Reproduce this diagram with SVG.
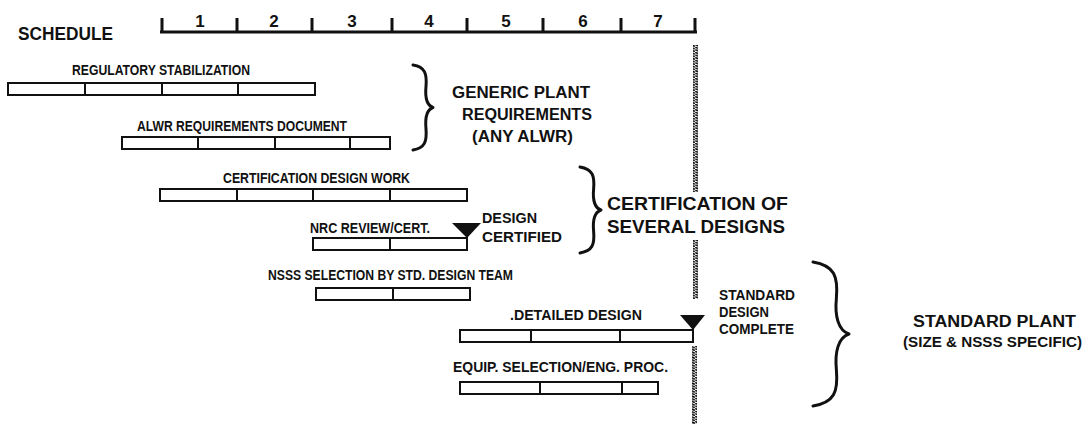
<svg xmlns="http://www.w3.org/2000/svg" width="1090" height="424" viewBox="0 0 1090 424">
<style>
text{font-family:"Liberation Sans","DejaVu Sans",sans-serif;font-weight:bold;fill:#111}
.sm{font-size:14.5px}
.md{font-size:16px}
.lg{font-size:17.5px}
.num{font-size:17px}
.bar{fill:#fff;stroke:#111;stroke-width:2}
.div{stroke:#111;stroke-width:2}
.axis{stroke:#111;stroke-width:3;fill:none}
.brace{fill:none;stroke:#111;stroke-width:3;stroke-linecap:round;stroke-linejoin:round}
.tri{fill:#111}
</style>
<defs>
<pattern id="hatch" patternUnits="userSpaceOnUse" width="5" height="2.6">
<path d="M0,0.2 L5,2.2" stroke="#111" stroke-width="1.6"/>
</pattern>
</defs>
<rect width="1090" height="424" fill="#fff"/>

<g id="schedule-axis">
<text class="lg" x="18" y="40" textLength="95" lengthAdjust="spacingAndGlyphs">SCHEDULE</text>
<path class="axis" d="M160,32 H697 M162,18 V33 M237,18 V33 M312,18 V33 M392,18 V33 M467,18 V33 M543,18 V33 M621,18 V33 M695,18 V33"/>
<text class="num" x="200" y="27" text-anchor="middle">1</text>
<text class="num" x="274" y="27" text-anchor="middle">2</text>
<text class="num" x="352" y="27" text-anchor="middle">3</text>
<text class="num" x="429" y="27" text-anchor="middle">4</text>
<text class="num" x="506" y="27" text-anchor="middle">5</text>
<text class="num" x="583" y="27" text-anchor="middle">6</text>
<text class="num" x="658" y="27" text-anchor="middle">7</text>
</g>

<g id="cutoff-line">
<rect x="693" y="45" width="5" height="147" fill="url(#hatch)"/>
<rect x="693" y="240" width="5" height="59" fill="url(#hatch)"/>
<rect x="692" y="346" width="5" height="78" fill="url(#hatch)"/>
</g>

<g id="regulatory-stabilization">
<text class="sm" x="72" y="75" textLength="178" lengthAdjust="spacingAndGlyphs">REGULATORY STABILIZATION</text>
<rect class="bar" x="8" y="83" width="307" height="12"/>
<path class="div" d="M85,83 V95 M162,83 V95 M238,83 V95"/>
</g>

<g id="alwr-requirements">
<text class="sm" x="137" y="131" textLength="210" lengthAdjust="spacingAndGlyphs">ALWR REQUIREMENTS DOCUMENT</text>
<rect class="bar" x="122" y="137" width="268" height="12"/>
<path class="div" d="M198,137 V149 M275,137 V149 M350,137 V149"/>
</g>

<g id="certification-design-work">
<text class="sm" x="223" y="183" textLength="187" lengthAdjust="spacingAndGlyphs">CERTIFICATION DESIGN WORK</text>
<rect class="bar" x="160" y="189" width="307" height="12"/>
<path class="div" d="M237,189 V201 M313,189 V201 M390,189 V201"/>
</g>

<g id="nrc-review">
<text class="sm" x="310" y="233" textLength="120" lengthAdjust="spacingAndGlyphs">NRC REVIEW/CERT.</text>
<rect class="bar" x="313" y="238" width="154" height="12"/>
<path class="div" d="M390,238 V250"/>
<polygon class="tri" points="452,223 481,223 467,238"/>
<path class="div" d="M467,230 V250" stroke-width="3"/>
<text class="sm" x="482" y="223" textLength="55" lengthAdjust="spacingAndGlyphs">DESIGN</text>
<text class="sm" x="482" y="242" textLength="80" lengthAdjust="spacingAndGlyphs">CERTIFIED</text>
</g>

<g id="nsss-selection">
<text class="sm" x="268" y="280" textLength="245" lengthAdjust="spacingAndGlyphs">NSSS SELECTION BY STD. DESIGN TEAM</text>
<rect class="bar" x="316" y="288" width="154" height="12"/>
<path class="div" d="M393,288 V300"/>
</g>

<g id="detailed-design">
<text class="sm" x="510" y="320" textLength="132" lengthAdjust="spacingAndGlyphs">.DETAILED DESIGN</text>
<rect class="bar" x="460" y="330" width="233" height="12"/>
<path class="div" d="M531,330 V342 M620,330 V342"/>
<polygon class="tri" points="680,315 705,315 693,330"/>
<path class="div" d="M693,322 V342" stroke-width="3"/>
<text class="sm" x="719" y="300" textLength="76" lengthAdjust="spacingAndGlyphs">STANDARD</text>
<text class="sm" x="719" y="317" textLength="50" lengthAdjust="spacingAndGlyphs">DESIGN</text>
<text class="sm" x="719" y="334" textLength="75" lengthAdjust="spacingAndGlyphs">COMPLETE</text>
</g>

<g id="equip-selection">
<text class="sm" x="453" y="372" textLength="215" lengthAdjust="spacingAndGlyphs">EQUIP. SELECTION/ENG. PROC.</text>
<rect class="bar" x="460" y="382" width="198" height="12"/>
<path class="div" d="M540,382 V394 M622,382 V394"/>
</g>

<g id="generic-plant">
<path class="brace" d="M413,65 C425,67 427,73.5 426,86.25 C425,96.9 427,105.4 433,107.5 C427,109.6 425,118.1 426,128.75 C427,141.5 425,147.9 413,150"/>
<text class="md" x="452" y="98" textLength="138" lengthAdjust="spacingAndGlyphs">GENERIC PLANT</text>
<text class="md" x="462" y="120" textLength="130" lengthAdjust="spacingAndGlyphs">REQUIREMENTS</text>
<text class="md" x="472" y="142" textLength="101" lengthAdjust="spacingAndGlyphs">(ANY ALWR)</text>
</g>

<g id="certification-several">
<path class="brace" d="M580,167 C592.6,169.2 594.7,175.6 593.65,188.5 C592.6,199.25 594.7,207.85 601,210 C594.7,212.15 592.6,220.75 593.65,231.5 C594.7,244.4 592.6,250.85 580,253"/>
<text class="lg" x="607" y="210" textLength="181" lengthAdjust="spacingAndGlyphs">CERTIFICATION OF</text>
<text class="lg" x="607" y="233" textLength="178" lengthAdjust="spacingAndGlyphs">SEVERAL DESIGNS</text>
</g>

<g id="standard-plant">
<path class="brace" d="M813,262 C834.6,265.6 838.2,276.4 836.4,298 C834.6,316 838.2,330.4 849,334 C838.2,337.6 834.6,352 836.4,370 C838.2,391.6 834.6,402.4 813,406"/>
<text class="md" x="913" y="327" textLength="163" lengthAdjust="spacingAndGlyphs">STANDARD PLANT</text>
<text x="903" y="347" font-size="15" textLength="179" lengthAdjust="spacingAndGlyphs">(SIZE &amp; NSSS SPECIFIC)</text>
</g>
</svg>
